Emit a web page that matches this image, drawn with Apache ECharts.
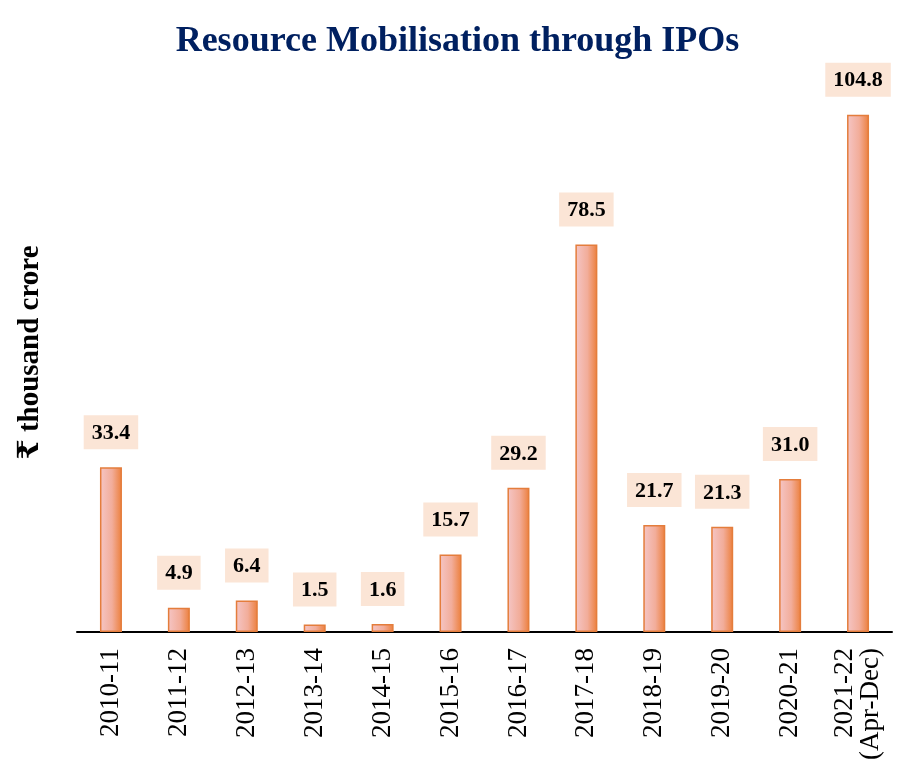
<!DOCTYPE html>
<html>
<head>
<meta charset="utf-8">
<script src="https://cdn.jsdelivr.net/npm/echarts@6/dist/echarts.min.js"></script>
<style>
  html, body { margin: 0; padding: 0; background: #fff; }
  #ipoChart { width: 915px; height: 780px; }
</style>
</head>
<body>
<div id="ipoChart"></div>
<script>
// years shown on the x axis
const years = ['2010-11', '2011-12', '2012-13', '2013-14', '2014-15', '2015-16',
  '2016-17', '2017-18', '2018-19', '2019-20', '2020-21', '2021-22\n(Apr-Dec)'];
// amount raised, ₹ thousand crore
const amounts = [33.4, 4.9, 6.4, 1.5, 1.6, 15.7, 29.2, 78.5, 21.7, 21.3, 31.0, 104.8];

const serif = '"Liberation Serif", "DejaVu Serif", serif';
const ipoChart = echarts.init(document.getElementById('ipoChart'));

const option = {
  backgroundColor: '#ffffff',
  title: {
    text: 'Resource Mobilisation through IPOs',
    left: 'center',
    top: 19,
    textStyle: { fontFamily: serif, fontWeight: 'bold', fontSize: 36, color: '#002060' }
  },
  grid: { left: 77, right: 23, top: 89, bottom: 148 },
  xAxis: {
    type: 'category',
    data: years,
    axisLine: { lineStyle: { color: '#000', width: 2 } },
    axisTick: { show: false },
    axisLabel: {
      rotate: 90,
      interval: 0,
      margin: 16,
      color: '#000',
      fontFamily: serif,
      fontSize: 27,
      lineHeight: 26
    }
  },
  yAxis: {
    type: 'value',
    min: 0,
    max: 110,
    name: '₹ thousand crore',
    nameLocation: 'middle',
    nameGap: 32,
    nameRotate: 90,
    nameTextStyle: {
      fontFamily: serif, fontWeight: 'bold', fontSize: 29, color: '#000',
      padding: [0, 0, 0, 16]
    },
    axisLine: { show: false },
    axisTick: { show: false },
    axisLabel: { show: false },
    splitLine: { show: false }
  },
  series: [
    {
      name: 'IPO',
      type: 'bar',
      data: amounts,
      barWidth: 22,
      itemStyle: {
        color: new echarts.graphic.LinearGradient(0, 0, 1, 0, [
          { offset: 0, color: '#f5c6c6' },
          { offset: 0.55, color: '#f2ad9a' },
          { offset: 1, color: '#ec7e3a' }
        ]),
        borderColor: '#e47d3c',
        borderWidth: 1.5
      },
      label: {
        show: true,
        position: 'top',
        distance: 18,
        formatter: p => p.value.toFixed(1),
        fontFamily: serif,
        fontWeight: 'bold',
        fontSize: 22,
        color: '#000',
        backgroundColor: '#fbe5d6',
        padding: [7, 8, 5, 8]
      }
    }
  ]
};

ipoChart.setOption(option);
</script>
</body>
</html>
